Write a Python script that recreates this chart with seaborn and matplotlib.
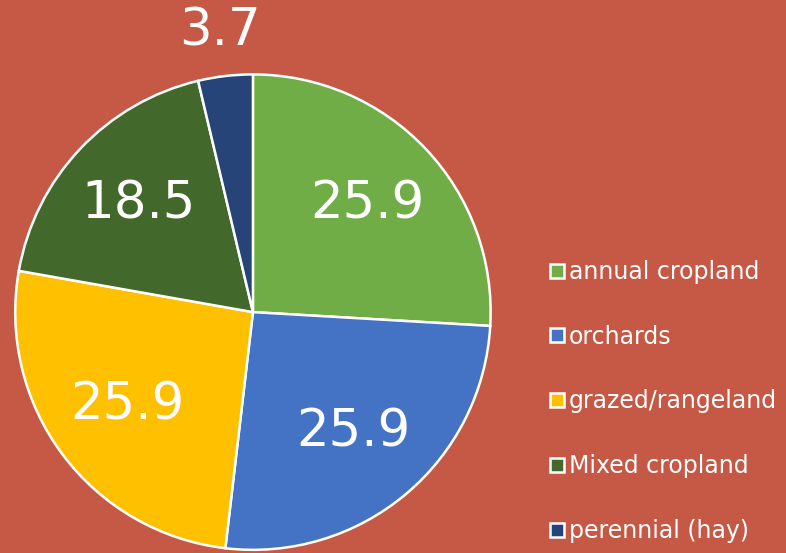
import matplotlib
matplotlib.use('Agg')
import numpy as np
import matplotlib.pyplot as plt  # for visualization
import seaborn as sns  # for the palette / theme
from matplotlib.lines import Line2D

# Land use shares
categories = ['annual cropland', 'orchards', 'grazed/rangeland', 'Mixed cropland', 'perennial (hay)']
values = [25.9, 25.9, 25.9, 18.5, 3.7]
colors = ['#70AD47', '#4472C4', '#FFC000', '#43682B', '#264478']
bg = '#C65946'

sns.set_style('white')
plt.rcParams['font.family'] = ['DejaVu Sans']

palette = sns.color_palette(colors)

fig = plt.figure(figsize=(7.86, 5.53), dpi=100, facecolor=bg)
ax = fig.add_axes([0.0178, 0.0036, 0.608, 0.864])
ax.set_facecolor(bg)

wedges, texts, autotexts = ax.pie(
    values, colors=palette, startangle=90, counterclock=False,
    autopct=lambda p: '', pctdistance=0.66,
    wedgeprops=dict(edgecolor='white', linewidth=1.8),
)

# value labels, small slice pushed outside
for w, v, t in zip(wedges, values, autotexts):
    t.set_text(f'{v:.1f}')
    t.set_color('white')
    t.set_fontsize(37)
    if v < 5:
        ang = np.deg2rad((w.theta1 + w.theta2) / 2)
        t.set_position((1.19 * np.cos(ang), 1.19 * np.sin(ang)))
ax.set_aspect('equal')
ax.set_xlim(-1.005, 1.005)
ax.set_ylim(-1.005, 1.005)
ax.axis('off')

handles = [Line2D([], [], marker='s', linestyle='', markersize=10,
                  markerfacecolor=c, markeredgecolor='white', markeredgewidth=1.8)
           for c in colors]
leg = fig.legend(handles, categories, loc='center left', bbox_to_anchor=(0.685, 0.274),
                 frameon=False, fontsize=17, labelcolor='white', handlelength=0.6,
                 handletextpad=0.2, labelspacing=1.73, borderpad=0)

fig.savefig('out.png', dpi=100, facecolor=bg)
